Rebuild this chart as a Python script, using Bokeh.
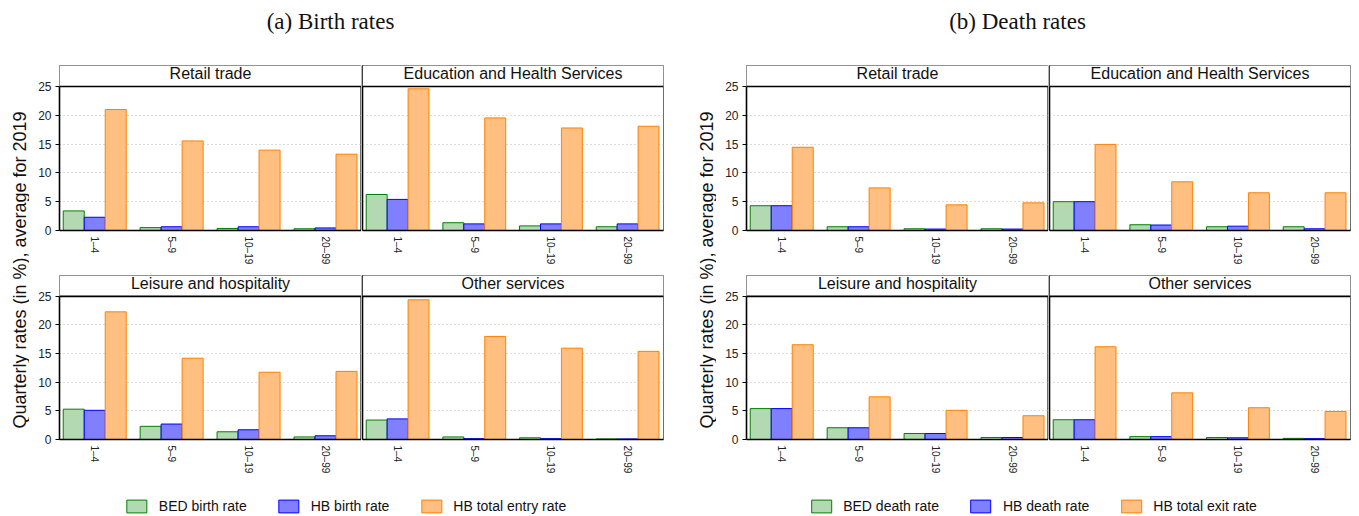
import math
from bokeh.plotting import figure
from bokeh.models import (ColumnDataSource, Range1d, FixedTicker, BoxAnnotation,
                          Span, Label, Legend, LegendItem)
from bokeh.layouts import row, column, Spacer
from bokeh.transform import dodge
from bokeh.embed import file_html
from bokeh.resources import INLINE

# ---------------- data ----------------
sizes = ["1–4", "5–9", "10–19", "20–99"]
sectors = ["Retail trade", "Education and Health Services",
           "Leisure and hospitality", "Other services"]

# (a) Birth rates
bed_birth_retail = [3.4, 0.5, 0.35, 0.3]
hb_birth_retail = [2.3, 0.65, 0.65, 0.45]
hb_entry_retail = [21.0, 15.55, 13.95, 13.25]
bed_birth_edu = [6.25, 1.35, 0.8, 0.65]
hb_birth_edu = [5.4, 1.15, 1.15, 1.15]
hb_entry_edu = [24.6, 19.55, 17.8, 18.1]
bed_birth_leis = [5.3, 2.3, 1.35, 0.45]
hb_birth_leis = [5.1, 2.7, 1.7, 0.65]
hb_entry_leis = [22.3, 14.2, 11.75, 11.9]
bed_birth_oth = [3.4, 0.45, 0.3, 0.1]
hb_birth_oth = [3.6, 0.15, 0.15, 0.1]
hb_entry_oth = [24.4, 18.0, 15.95, 15.4]

# (b) Death rates
bed_death_retail = [4.3, 0.65, 0.3, 0.3]
hb_death_retail = [4.3, 0.65, 0.25, 0.25]
hb_exit_retail = [14.45, 7.4, 4.45, 4.8]
bed_death_edu = [5.0, 1.0, 0.65, 0.65]
hb_death_edu = [5.0, 0.95, 0.75, 0.3]
hb_exit_edu = [14.95, 8.45, 6.55, 6.55]
bed_death_leis = [5.4, 2.05, 1.05, 0.35]
hb_death_leis = [5.4, 2.05, 1.05, 0.35]
hb_exit_leis = [16.55, 7.45, 5.1, 4.15]
bed_death_oth = [3.45, 0.5, 0.35, 0.2]
hb_death_oth = [3.45, 0.5, 0.3, 0.15]
hb_exit_oth = [16.2, 8.15, 5.55, 4.9]

legend_a = ["BED birth rate", "HB birth rate", "HB total entry rate"]
legend_b = ["BED death rate", "HB death rate", "HB total exit rate"]
y_ticks = [0, 5, 10, 15, 20, 25]
title_a = "(a) Birth rates"
title_b = "(b) Death rates"
y_title = "Quarterly rates (in %), average for 2019"

# ---------------- style ----------------
FONT = "Liberation Sans"
SERIF = "Liberation Serif"
COLORS = [("#008000", "#b3d9b3"), ("#0000ff", "#8080ff"), ("#ff8000", "#ffbf80")]
BAR_W = 0.273
X_START, X_END = 0.542, 4.468
Y_TOP = 25
Y_MAX = 25 * 165 / 144


def blank_fig(width, height, xr=(0, 1), yr=(0, 1)):
    p = figure(width=width, height=height, x_range=Range1d(*xr), y_range=Range1d(*yr),
               output_backend="svg", toolbar_location=None,
               x_axis_location=None, y_axis_location=None,
               min_border=0, outline_line_color=None,
               background_fill_color="white", border_fill_color="white")
    p.grid.visible = False
    return p


def facet(title, s1, s2, s3, width, height, bl, br, bt, bb, show_y):
    p = figure(width=width, height=height,
               x_range=Range1d(X_START, X_END), y_range=Range1d(0, Y_MAX),
               output_backend="svg", toolbar_location=None,
               min_border_left=bl, min_border_right=br,
               min_border_top=bt, min_border_bottom=bb,
               background_fill_color="white", border_fill_color="white",
               outline_line_color="#6e6e6e", outline_line_width=1)
    src = ColumnDataSource(dict(x=list(range(1, len(sizes) + 1)), a=s1, b=s2, c=s3))
    for field, off, (lc, fc) in zip(("a", "b", "c"), (-BAR_W, 0.0, BAR_W), COLORS):
        p.vbar(x=dodge("x", off, range=p.x_range), top=field, bottom=0, width=BAR_W,
               source=src, fill_color=fc, line_color=lc, line_width=1)
    # header strip
    p.add_layout(BoxAnnotation(bottom=Y_TOP, fill_color="white", fill_alpha=1,
                               line_color=None))
    p.add_layout(Span(location=Y_TOP, dimension="width", line_color="black",
                      line_width=1.6))
    p.add_layout(Label(x=(X_START + X_END) / 2, y=27.26, text=title,
                       text_align="center", text_baseline="middle",
                       text_font=FONT, text_font_size="16px", text_color="#111111"))
    # grid
    p.xgrid.visible = False
    p.ygrid.ticker = FixedTicker(ticks=[5, 10, 15, 20])
    p.ygrid.grid_line_color = "#b8b8b8"
    p.ygrid.grid_line_dash = "1 3"
    p.ygrid.grid_line_width = 1
    # x axis
    xa = p.xaxis[0]
    xa.ticker = FixedTicker(ticks=list(range(1, len(sizes) + 1)))
    xa.major_label_overrides = {i + 1: s for i, s in enumerate(sizes)}
    xa.major_label_orientation = "vertical"
    xa.major_tick_out = 0
    xa.major_tick_in = 0
    xa.minor_tick_line_color = None
    xa.major_label_standoff = 6
    xa.major_label_text_font = FONT
    xa.major_label_text_font_size = "10px"
    xa.major_label_text_color = "#222222"
    xa.axis_line_color = "black"
    xa.axis_line_width = 1.6
    # y axis
    ya = p.yaxis[0]
    ya.axis_line_color = "black"
    ya.axis_line_width = 1.6
    ya.minor_tick_line_color = None
    if show_y:
        ya.bounds = (0, Y_TOP)
        ya.ticker = FixedTicker(ticks=y_ticks)
        ya.major_tick_out = 4
        ya.major_tick_in = 0
        ya.major_tick_line_color = "black"
        ya.major_label_standoff = 4
        ya.major_label_text_font = FONT
        ya.major_label_text_font_size = "12px"
        ya.major_label_text_color = "#222222"
    else:
        ya.ticker = FixedTicker(ticks=[])
        ya.major_tick_out = 0
        ya.major_tick_in = 0
        ya.major_label_standoff = 0
    return p


def ylab_fig(width, height, xfrac):
    p = blank_fig(width, height)
    p.add_layout(Label(x=xfrac, y=0.5, text=y_title, angle=math.pi / 2,
                       text_align="center", text_baseline="middle",
                       text_font=FONT, text_font_size="18px", text_color="#111111"))
    return p


def legend_fig(width, height, labels):
    p = blank_fig(width, height)
    items = []
    for lab, (lc, fc) in zip(labels, COLORS):
        # legend-only swatch renderer (not drawn in the plot area)
        r = p.vbar(x=[0.5], top=[1], width=0.1, fill_color=fc, line_color=lc,
                   line_width=1, visible=False)
        items.append(LegendItem(label=lab, renderers=[r]))
    leg = Legend(items=items, orientation="horizontal", location="bottom_center",
                 glyph_width=25, glyph_height=16, label_standoff=10, spacing=29,
                 padding=0, margin=2, border_line_color=None, background_fill_alpha=0,
                 label_text_font=FONT, label_text_font_size="14px",
                 label_text_color="#111111", label_height=16,
                 inactive_fill_alpha=0)
    p.add_layout(leg)
    return p


# titles
TITLE_H = 63
tfig = blank_fig(1359, TITLE_H, xr=(0, 1359), yr=(0, TITLE_H))
for tx, tt in ((330, title_a), (1017, title_b)):
    tfig.add_layout(Label(x=tx, y=TITLE_H - 21, text=tt, text_align="center",
                          text_baseline="middle", text_font=SERIF,
                          text_font_size="23px", text_color="#111111"))

TOP_H, BOT_H = 210, 203

# panel (a)
a11 = facet(sectors[0], bed_birth_retail, hb_birth_retail, hb_entry_retail, 332, TOP_H, 30, 0, 2, 43, True)
a12 = facet(sectors[1], bed_birth_edu, hb_birth_edu, hb_entry_edu, 329, TOP_H, 1, 27, 2, 43, False)
a21 = facet(sectors[2], bed_birth_leis, hb_birth_leis, hb_entry_leis, 332, BOT_H, 30, 0, 2, 36, True)
a22 = facet(sectors[3], bed_birth_oth, hb_birth_oth, hb_entry_oth, 329, BOT_H, 1, 27, 2, 36, False)
# panel (b)
b11 = facet(sectors[0], bed_death_retail, hb_death_retail, hb_exit_retail, 332, TOP_H, 30, 0, 2, 43, True)
b12 = facet(sectors[1], bed_death_edu, hb_death_edu, hb_exit_edu, 311, TOP_H, 1, 9, 2, 43, False)
b21 = facet(sectors[2], bed_death_leis, hb_death_leis, hb_exit_leis, 332, BOT_H, 30, 0, 2, 36, True)
b22 = facet(sectors[3], bed_death_oth, hb_death_oth, hb_exit_oth, 311, BOT_H, 1, 9, 2, 36, False)

ya_fig = ylab_fig(29, TOP_H + BOT_H, 19 / 29)
yb_fig = ylab_fig(26, TOP_H + BOT_H, 16 / 26)

panel_a = row(ya_fig, column(row(a11, a12), row(a21, a22)))
panel_b = row(yb_fig, column(row(b11, b12), row(b21, b22)))

LEG_H = 516 - TITLE_H - TOP_H - BOT_H
leg_a = legend_fig(690, LEG_H, legend_a)
leg_b = legend_fig(653, LEG_H, legend_b)

layout = column(tfig, row(panel_a, panel_b),
                row(leg_a, Spacer(width=16, height=LEG_H), leg_b))

open("out.html", "w").write(file_html(layout, INLINE))
